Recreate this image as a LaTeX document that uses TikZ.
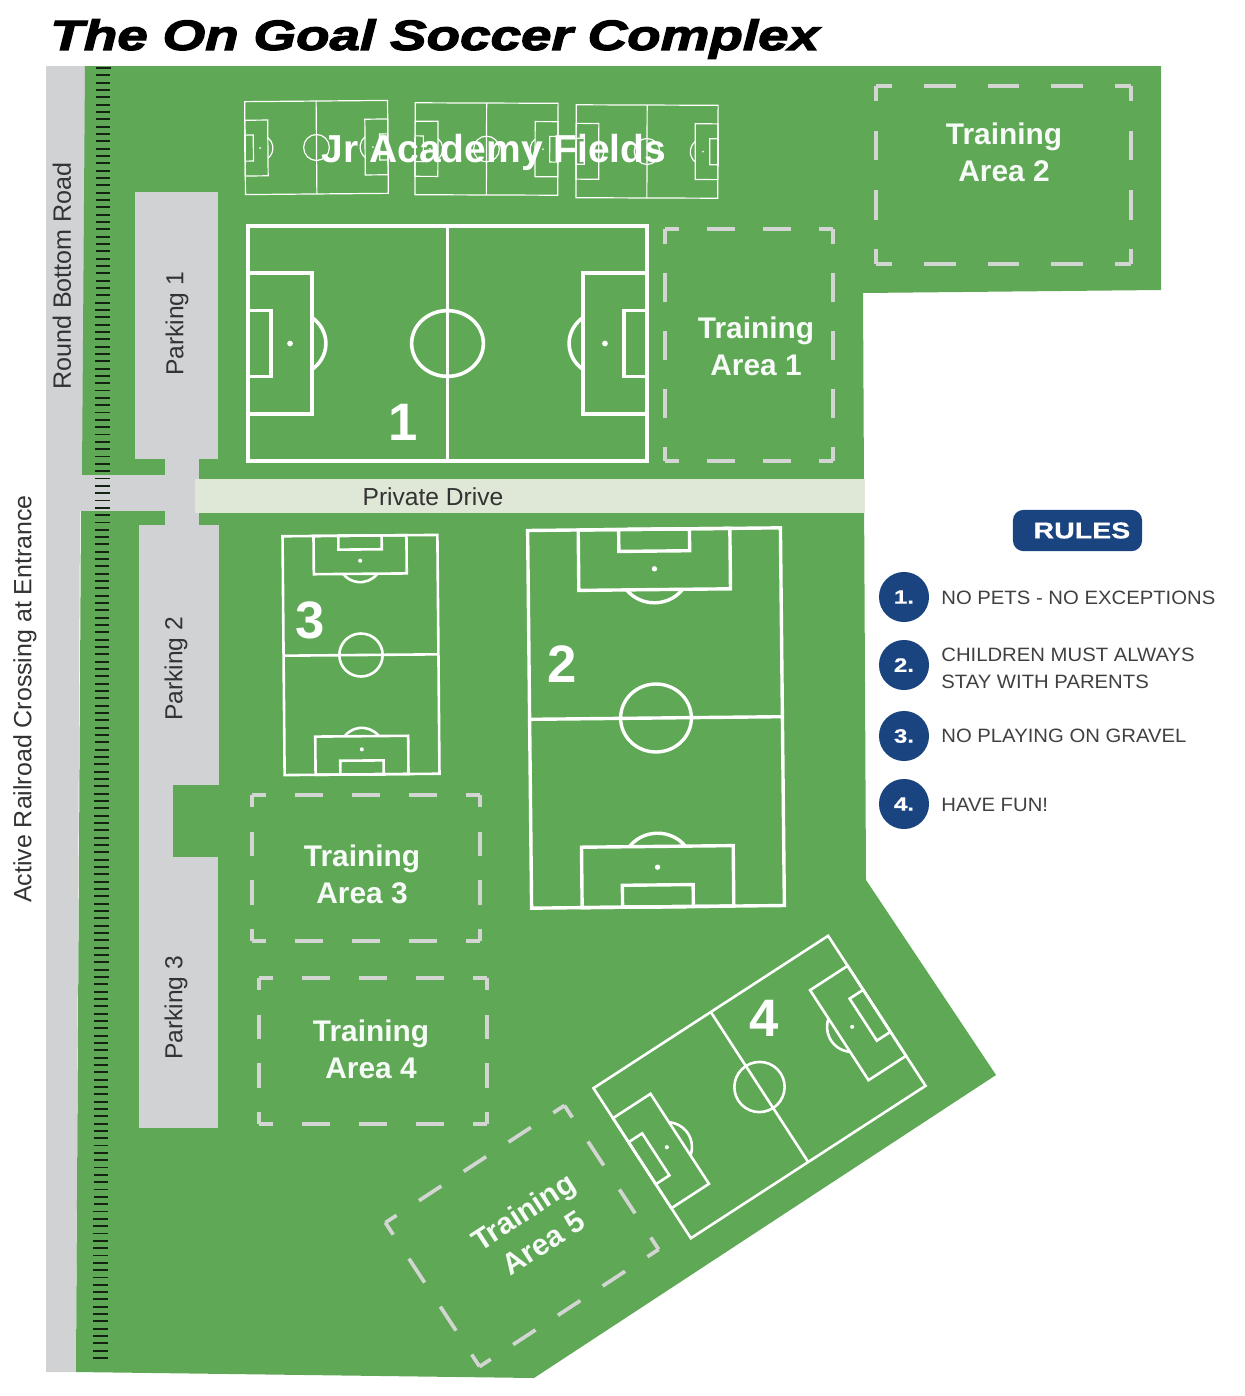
\documentclass[tikz,border=0pt]{standalone}
\usepackage{fontspec}
\usepackage{xcolor}
\setmainfont{Liberation Sans}
\newfontfamily\techfont[FakeStretch=1.25,FakeBold=0.6]{Liberation Sans Bold}
\newfontfamily\rulefont[FakeStretch=1.05]{Liberation Sans}
\newfontfamily\titlefont[FakeStretch=1.3,FakeBold=3]{Liberation Sans Bold Italic}
\definecolor{fieldgreen}{HTML}{5FA855}
\definecolor{roadgrey}{HTML}{D1D2D4}
\definecolor{drivegreen}{HTML}{DFE8D6}
\definecolor{rulesblue}{HTML}{1A4480}
\definecolor{zonegrey}{HTML}{D3D5D3}
\tikzstyle{railtick} = [line width=1.1pt, draw=black!80!fieldgreen]
\tikzstyle{maplabel} = [font=\fontsize{14}{16}\selectfont, text=black!80]
\tikzstyle{arealabel} = [font=\fontsize{17}{21}\selectfont\bfseries, text=white!95!fieldgreen, align=center]
\tikzstyle{fieldnumber} = [font=\fontsize{30}{30}\selectfont\bfseries, text=white]
\tikzstyle{rulebadge} = [circle, fill=rulesblue, minimum size=28.5pt, inner sep=0pt, text=white, font=\techfont\fontsize{11}{11}\selectfont]
\tikzstyle{ruletext} = [anchor=west, inner sep=0pt, align=left, text=black!75, font=\rulefont\fontsize{11}{15.2}\selectfont]
% pitch: cx, cy, length, width, angle, line width (all in px)
\newcommand{\pitch}[6]{
	\begin{scope}[shift={(#1,#2)}, rotate=#5, x=#3*0.01cm, y=#4*0.01cm, draw=white, line width=#6*0.569pt]
		\draw (-1,-1) rectangle (1,1);
		\draw (0,-1) -- (0,1);
		\draw (0,0) circle [x radius=0.18, y radius=0.28];
		\foreach \s in {-1,1} {
			\begin{scope}[xscale=\s]
				\draw (-1,-0.6) rectangle (-0.68,0.6);
				\draw (-1,-0.28) rectangle (-0.884,0.28);
				\draw (-0.79,0) ++(-52:0.18 and 0.28) arc [start angle=-52, end angle=52, x radius=0.18, y radius=0.28];
				\fill[white] (-0.79,0) circle [radius=#6*0.45pt];
			\end{scope}
		}
	\end{scope}
}
% zone: cx, cy, width, height, angle, dashes across, dashes down
\newcommand{\zone}[7]{
	\begin{scope}[shift={(#1,#2)}, rotate=#5, draw=zonegrey, line width=2.1pt]
		\pgfmathsetmacro\zoneW{#3/#6*0.2846}
		\pgfmathsetmacro\zoneH{#4/#7*0.2846}
		\pgfmathsetmacro\zoneWp{\zoneW/2}
		\pgfmathsetmacro\zoneHp{\zoneH/2}
		\draw[dash pattern=on \zoneW pt off \zoneW pt, dash phase=\zoneWp pt] (-#3/2,-#4/2) -- (#3/2,-#4/2);
		\draw[dash pattern=on \zoneW pt off \zoneW pt, dash phase=\zoneWp pt] (-#3/2,#4/2) -- (#3/2,#4/2);
		\draw[dash pattern=on \zoneH pt off \zoneH pt, dash phase=\zoneHp pt] (-#3/2,-#4/2) -- (-#3/2,#4/2);
		\draw[dash pattern=on \zoneH pt off \zoneH pt, dash phase=\zoneHp pt] (#3/2,-#4/2) -- (#3/2,#4/2);
	\end{scope}
}

\begin{document}
\begin{tikzpicture}[x=0.02cm, y=-0.02cm]
	\useasboundingbox (0,0) rectangle (1244,1396);

	% ground
	\fill[roadgrey] (46,66) -- (86,66) -- (84,480) -- (80,510) -- (76,1372) -- (46,1372) -- cycle;
	\fill[fieldgreen] (85,66) -- (1161,66) -- (1161,290) -- (863,293) -- (866,880) -- (996,1075) -- (534,1378) -- (76,1372) -- (81,511) -- (82,475) -- cycle;
	\fill[roadgrey] (46,475) rectangle (199,511);
	\fill[roadgrey] (135,192) rectangle (218,459);
	\fill[roadgrey] (165,459) rectangle (199,525);
	\fill[roadgrey] (139,525) rectangle (219,785);
	\fill[roadgrey] (139,785) rectangle (173,857);
	\fill[roadgrey] (139,857) rectangle (218,1128);
	\fill[drivegreen] (195,479) rectangle (865,513);

	% railroad
	\foreach \y in {0,...,176} {
		\draw[railtick] ({96-0.0022*\y*7.33},{68+\y*7.33}) -- ++(14.5,0);
	}

	% pitches
	\pitch{447.5}{343.5}{399}{235}{0}{3.6}
	\pitch{656}{718}{378}{253}{90.6}{3.4}
	\pitch{361}{655}{239}{155}{90.5}{2.6}
	\pitch{759.5}{1087}{280}{179}{33}{2.6}
	\pitch{316.5}{147.5}{143}{93}{0.5}{1.2}
	\pitch{486.5}{149}{143}{92}{-0.2}{1.2}
	\pitch{647}{151.5}{142}{93}{-0.2}{1.2}

	% training areas
	\zone{749}{345}{168}{232}{0}{3}{4}
	\zone{1003.5}{175}{255}{178}{0}{4}{3}
	\zone{366}{868}{228}{146}{0}{4}{3}
	\zone{373}{1051}{228}{146}{0}{4}{3}
	\zone{522}{1236}{214}{172}{33.2}{4}{3}

	% title and text on the map
	\node (title) [anchor=west, inner sep=0pt] at (50,39) {\titlefont\fontsize{24}{24}\selectfont The\hspace{0.35em}On\hspace{0.35em}Goal\hspace{0.35em}Soccer\hspace{0.35em}Complex};
	\node (jrfields) [font=\fontsize{22.2}{22}\selectfont\bfseries, text=white] at (494,152) {Jr Academy Fields};
	\node (roundroad) [maplabel, rotate=90, font=\fontsize{14.3}{16}\selectfont] at (62,276) {Round Bottom Road};
	\node (crossing) [maplabel, rotate=90, font=\fontsize{14.2}{16}\selectfont] at (25,699) {Active Railroad Crossing at Entrance};
	\node (drive) [maplabel] at (433,497) {Private Drive};
	\node (parking1) [maplabel, rotate=90] at (177,324) {Parking 1};
	\node (parking2) [maplabel, rotate=90] at (176,669) {Parking 2};
	\node (parking3) [maplabel, rotate=90] at (176,1008) {Parking 3};

	\node (area1) [arealabel] at (756,346) {Training\\Area 1};
	\node (area2) [arealabel] at (1004,152) {Training\\Area 2};
	\node (area3) [arealabel] at (362,874) {Training\\Area 3};
	\node (area4) [arealabel] at (371,1049) {Training\\Area 4};
	\node (area5) [arealabel, rotate=33] at (533,1227) {Training\\Area 5};

	\node (num1) [fieldnumber] at (403,422) {1};
	\node (num2) [fieldnumber] at (562,664) {2};
	\node (num3) [fieldnumber] at (310,620) {3};
	\node (num4) [fieldnumber] at (764,1018) {4};

	% rules
	\node (rules) [rectangle, rounded corners=6pt, fill=rulesblue, minimum width=73.5pt, minimum height=23.5pt, text=white, font=\techfont\fontsize{13}{13}\selectfont] at (1077.5,530.5) {\hspace*{5pt}RULES};
	\node (badge1) [rulebadge] at (904,597) {1.};
	\node (badge2) [rulebadge] at (904,665) {2.};
	\node (badge3) [rulebadge] at (904,736) {3.};
	\node (badge4) [rulebadge] at (904,804) {4.};
	\node (rule1) [ruletext] at (941,598) {NO PETS - NO EXCEPTIONS};
	\node (rule2) [ruletext] at (941,668) {CHILDREN MUST ALWAYS\\STAY WITH PARENTS};
	\node (rule3) [ruletext] at (941,736) {NO PLAYING ON GRAVEL};
	\node (rule4) [ruletext] at (941,805) {HAVE FUN!};
\end{tikzpicture}
\end{document}
